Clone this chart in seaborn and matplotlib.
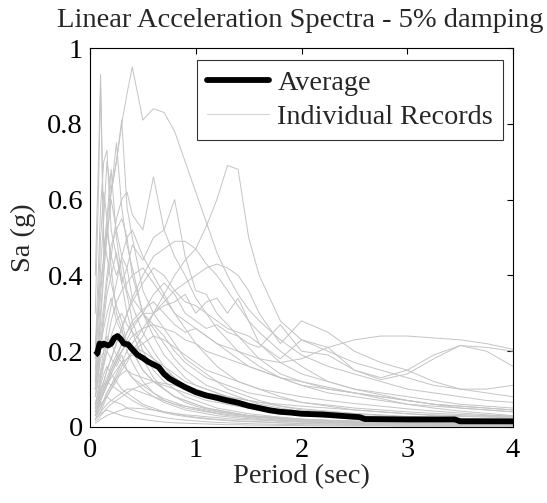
import numpy as np
import pandas as pd
import matplotlib
matplotlib.use("Agg")
import matplotlib.pyplot as plt
from matplotlib.lines import Line2D
import seaborn as sns

# ---------------- data ----------------
PERIOD = [0.05, 0.08, 0.1, 0.13, 0.16, 0.2, 0.25, 0.3, 0.35, 0.4, 0.5, 0.6, 0.7, 0.8, 0.9, 1.0,
          1.1, 1.2, 1.3, 1.4, 1.5, 1.6, 1.8, 2.0, 2.25, 2.5, 2.75, 3.0, 3.25, 3.5, 3.75, 4.0]

REC_01 = [0.22,0.30,0.38,0.45,0.55,0.62,0.70,0.80,0.88,0.95,0.81,0.84,0.83,0.78,0.70,0.62,0.54,0.46,0.40,0.35,0.31,0.28,0.23,0.19,0.16,0.14,0.12,0.10,0.09,0.08,0.07,0.065]
REC_02 = [0.40,0.70,0.93,0.50,0.45,0.38,0.32,0.28,0.22,0.20,0.15,0.12,0.10,0.08,0.07,0.06,0.05,0.045,0.04,0.035,0.03,0.028,0.024,0.02,0.018,0.016,0.014,0.012,0.011,0.01,0.009,0.008]
REC_03 = [0.30,0.62,0.90,0.45,0.55,0.42,0.30,0.26,0.20,0.17,0.12,0.09,0.07,0.06,0.05,0.045,0.04,0.035,0.03,0.028,0.025,0.022,0.018,0.015,0.013,0.011,0.01,0.009,0.008,0.008,0.007,0.007]
REC_04 = [0.12,0.22,0.30,0.42,0.50,0.62,0.70,0.81,0.58,0.50,0.36,0.30,0.26,0.22,0.18,0.16,0.14,0.12,0.10,0.09,0.08,0.07,0.055,0.045,0.04,0.035,0.03,0.026,0.024,0.022,0.02,0.018]
REC_05 = [0.15,0.30,0.42,0.55,0.70,0.62,0.75,0.58,0.48,0.42,0.30,0.24,0.19,0.16,0.13,0.11,0.10,0.09,0.08,0.07,0.06,0.055,0.045,0.038,0.032,0.027,0.024,0.021,0.019,0.017,0.016,0.015]
REC_06 = [0.20,0.42,0.58,0.70,0.73,0.52,0.45,0.38,0.30,0.25,0.18,0.13,0.10,0.08,0.065,0.055,0.048,0.042,0.037,0.033,0.03,0.027,0.022,0.018,0.015,0.013,0.011,0.01,0.009,0.008,0.008,0.007]
REC_07 = [0.10,0.16,0.22,0.30,0.38,0.45,0.55,0.60,0.62,0.56,0.52,0.66,0.52,0.45,0.40,0.34,0.30,0.26,0.23,0.20,0.18,0.16,0.13,0.11,0.09,0.08,0.07,0.06,0.055,0.05,0.045,0.04]
REC_08 = [0.08,0.12,0.15,0.20,0.26,0.32,0.38,0.45,0.42,0.48,0.44,0.50,0.52,0.60,0.45,0.36,0.35,0.30,0.27,0.24,0.21,0.18,0.14,0.12,0.10,0.09,0.08,0.07,0.06,0.055,0.05,0.045]
REC_09 = [0.04,0.05,0.06,0.07,0.08,0.10,0.12,0.15,0.17,0.20,0.24,0.30,0.35,0.40,0.44,0.47,0.53,0.60,0.69,0.68,0.50,0.40,0.28,0.23,0.20,0.17,0.15,0.13,0.11,0.10,0.09,0.08]
REC_10 = [0.03,0.04,0.05,0.07,0.09,0.11,0.14,0.17,0.20,0.22,0.26,0.30,0.33,0.36,0.38,0.40,0.42,0.43,0.42,0.40,0.36,0.30,0.22,0.28,0.25,0.20,0.17,0.15,0.12,0.10,0.10,0.11]
REC_11 = [0.05,0.07,0.09,0.12,0.15,0.18,0.22,0.26,0.30,0.33,0.38,0.42,0.40,0.36,0.33,0.32,0.30,0.28,0.26,0.25,0.24,0.22,0.18,0.23,0.21,0.15,0.13,0.15,0.19,0.215,0.20,0.16]
REC_12 = [0.04,0.06,0.08,0.10,0.12,0.15,0.18,0.22,0.25,0.28,0.31,0.33,0.30,0.27,0.25,0.26,0.24,0.22,0.21,0.20,0.19,0.18,0.17,0.18,0.21,0.23,0.24,0.24,0.235,0.23,0.22,0.205]
REC_13 = [0.03,0.05,0.07,0.09,0.11,0.14,0.17,0.20,0.23,0.26,0.30,0.35,0.38,0.35,0.30,0.28,0.26,0.27,0.25,0.24,0.22,0.21,0.27,0.20,0.19,0.15,0.125,0.14,0.18,0.215,0.21,0.20]
REC_14 = [0.05,0.07,0.09,0.11,0.13,0.16,0.19,0.22,0.25,0.27,0.30,0.30,0.32,0.33,0.35,0.30,0.33,0.34,0.30,0.34,0.28,0.22,0.17,0.14,0.12,0.10,0.09,0.08,0.07,0.06,0.055,0.05]
REC_15 = [0.06,0.08,0.10,0.12,0.15,0.18,0.22,0.26,0.30,0.34,0.40,0.45,0.47,0.49,0.49,0.47,0.43,0.40,0.36,0.32,0.28,0.25,0.20,0.16,0.12,0.10,0.085,0.07,0.06,0.05,0.045,0.04]
REC_16 = [0.10,0.18,0.25,0.32,0.40,0.48,0.52,0.55,0.50,0.52,0.45,0.40,0.35,0.30,0.26,0.22,0.19,0.16,0.14,0.12,0.11,0.10,0.08,0.065,0.055,0.045,0.04,0.035,0.03,0.028,0.026,0.024]
REC_17 = [0.12,0.25,0.35,0.45,0.50,0.60,0.52,0.45,0.50,0.40,0.30,0.26,0.22,0.18,0.15,0.13,0.11,0.10,0.09,0.08,0.07,0.06,0.05,0.04,0.035,0.03,0.027,0.024,0.022,0.02,0.018,0.017]
REC_18 = [0.18,0.35,0.50,0.62,0.55,0.68,0.50,0.40,0.35,0.28,0.20,0.15,0.12,0.10,0.08,0.07,0.06,0.05,0.045,0.04,0.035,0.032,0.026,0.021,0.018,0.015,0.013,0.012,0.011,0.01,0.009,0.009]
REC_19 = [0.10,0.20,0.28,0.40,0.52,0.45,0.40,0.44,0.36,0.32,0.25,0.20,0.16,0.13,0.11,0.09,0.08,0.07,0.06,0.055,0.05,0.045,0.036,0.03,0.025,0.021,0.018,0.016,0.014,0.013,0.012,0.011]
REC_20 = [0.08,0.14,0.20,0.28,0.35,0.40,0.46,0.38,0.42,0.34,0.30,0.27,0.24,0.20,0.17,0.15,0.13,0.12,0.11,0.10,0.09,0.085,0.075,0.065,0.058,0.05,0.045,0.04,0.036,0.033,0.03,0.028]
REC_21 = [0.06,0.10,0.14,0.18,0.22,0.28,0.33,0.36,0.38,0.40,0.42,0.38,0.34,0.30,0.28,0.26,0.24,0.22,0.20,0.18,0.16,0.15,0.13,0.11,0.10,0.09,0.08,0.07,0.06,0.055,0.05,0.045]
REC_22 = [0.10,0.16,0.22,0.26,0.30,0.34,0.28,0.25,0.22,0.20,0.15,0.12,0.10,0.08,0.07,0.06,0.05,0.045,0.04,0.035,0.03,0.028,0.024,0.02,0.017,0.015,0.013,0.012,0.011,0.01,0.009,0.008]
REC_23 = [0.05,0.09,0.12,0.16,0.20,0.24,0.28,0.30,0.27,0.25,0.22,0.18,0.15,0.13,0.11,0.10,0.09,0.08,0.07,0.065,0.06,0.055,0.045,0.04,0.034,0.03,0.026,0.023,0.021,0.019,0.018,0.016]
REC_24 = [0.08,0.14,0.18,0.20,0.24,0.22,0.19,0.17,0.15,0.13,0.10,0.08,0.065,0.055,0.045,0.04,0.035,0.03,0.027,0.024,0.022,0.02,0.016,0.013,0.011,0.01,0.009,0.008,0.007,0.007,0.006,0.006]
REC_25 = [0.04,0.06,0.08,0.10,0.12,0.15,0.18,0.20,0.22,0.21,0.20,0.18,0.16,0.14,0.12,0.11,0.10,0.09,0.08,0.075,0.07,0.065,0.055,0.048,0.042,0.036,0.032,0.028,0.025,0.023,0.021,0.02]
REC_26 = [0.06,0.10,0.13,0.17,0.20,0.18,0.16,0.19,0.15,0.13,0.11,0.09,0.075,0.065,0.055,0.048,0.042,0.037,0.033,0.03,0.027,0.025,0.02,0.017,0.014,0.012,0.011,0.01,0.009,0.008,0.007,0.007]
REC_27 = [0.03,0.05,0.07,0.09,0.11,0.13,0.15,0.17,0.18,0.19,0.18,0.16,0.14,0.12,0.10,0.09,0.08,0.07,0.065,0.06,0.055,0.05,0.042,0.036,0.03,0.026,0.023,0.02,0.018,0.016,0.015,0.014]
REC_28 = [0.05,0.08,0.11,0.14,0.16,0.14,0.12,0.10,0.09,0.08,0.06,0.05,0.04,0.035,0.03,0.026,0.023,0.02,0.018,0.016,0.015,0.014,0.011,0.009,0.008,0.007,0.006,0.005,0.005,0.004,0.004,0.004]
REC_29 = [0.02,0.04,0.05,0.07,0.09,0.11,0.13,0.14,0.15,0.14,0.13,0.12,0.11,0.10,0.09,0.08,0.07,0.065,0.06,0.055,0.05,0.046,0.04,0.034,0.03,0.026,0.023,0.021,0.019,0.017,0.016,0.015]
REC_30 = [0.04,0.07,0.09,0.11,0.12,0.11,0.10,0.09,0.08,0.07,0.055,0.045,0.038,0.032,0.028,0.024,0.021,0.019,0.017,0.015,0.014,0.013,0.011,0.009,0.008,0.007,0.006,0.006,0.005,0.005,0.005,0.004]
REC_31 = [0.02,0.03,0.04,0.05,0.06,0.07,0.08,0.09,0.10,0.10,0.09,0.08,0.07,0.06,0.055,0.05,0.045,0.04,0.036,0.033,0.03,0.028,0.024,0.02,0.017,0.015,0.013,0.012,0.011,0.01,0.009,0.009]
REC_32 = [0.03,0.05,0.06,0.07,0.08,0.07,0.065,0.06,0.05,0.045,0.035,0.03,0.025,0.021,0.018,0.016,0.014,0.012,0.011,0.01,0.009,0.008,0.007,0.006,0.005,0.004,0.004,0.003,0.003,0.003,0.003,0.003]
REC_33 = [0.01,0.015,0.02,0.025,0.03,0.035,0.04,0.045,0.05,0.05,0.048,0.045,0.04,0.036,0.032,0.03,0.027,0.025,0.022,0.02,0.019,0.018,0.015,0.013,0.011,0.01,0.009,0.008,0.007,0.007,0.006,0.006]
REC_34 = [0.02,0.03,0.035,0.04,0.045,0.04,0.035,0.03,0.027,0.024,0.02,0.016,0.013,0.011,0.01,0.009,0.008,0.007,0.006,0.006,0.005,0.005,0.004,0.004,0.003,0.003,0.003,0.002,0.002,0.002,0.002,0.002]
REC_35 = [0.03,0.05,0.07,0.09,0.11,0.14,0.17,0.20,0.22,0.24,0.26,0.27,0.26,0.25,0.23,0.22,0.20,0.19,0.18,0.17,0.16,0.15,0.13,0.12,0.105,0.09,0.075,0.06,0.05,0.042,0.036,0.03]
REC_36 = [0.02,0.03,0.04,0.06,0.08,0.10,0.13,0.16,0.18,0.20,0.22,0.24,0.23,0.21,0.19,0.17,0.15,0.14,0.13,0.12,0.11,0.10,0.09,0.08,0.07,0.062,0.055,0.048,0.042,0.037,0.032,0.028]
REC_37 = [0.015,0.02,0.03,0.04,0.05,0.06,0.07,0.08,0.09,0.10,0.11,0.12,0.115,0.11,0.10,0.095,0.09,0.085,0.08,0.075,0.07,0.065,0.06,0.055,0.05,0.045,0.04,0.035,0.032,0.03,0.028,0.026]

RECORDS = [REC_01, REC_02, REC_03, REC_04, REC_05, REC_06, REC_07, REC_08, REC_09, REC_10,
           REC_11, REC_12, REC_13, REC_14, REC_15, REC_16, REC_17, REC_18, REC_19, REC_20,
           REC_21, REC_22, REC_23, REC_24, REC_25, REC_26, REC_27, REC_28, REC_29, REC_30,
           REC_31, REC_32, REC_33, REC_34, REC_35, REC_36, REC_37]

AVG_PERIOD = [0.05, 0.07, 0.09, 0.11, 0.13, 0.17, 0.2, 0.23, 0.26, 0.29, 0.32, 0.36, 0.4, 0.45,
              0.5, 0.55, 0.6, 0.65, 0.7, 0.75, 0.8, 0.9, 1.0, 1.1, 1.2, 1.3, 1.4, 1.5, 1.6, 1.7,
              1.8, 1.9, 2.0, 2.2, 2.35, 2.55, 2.6, 3.0, 3.45, 3.5, 4.0]
AVG_SA = [0.19, 0.195, 0.22, 0.215, 0.22, 0.215, 0.22, 0.235, 0.24, 0.232, 0.22, 0.218, 0.205, 0.19,
          0.182, 0.172, 0.165, 0.158, 0.14, 0.128, 0.12, 0.105, 0.092, 0.083, 0.077, 0.07, 0.064, 0.056, 0.05, 0.044,
          0.04, 0.038, 0.035, 0.033, 0.03, 0.026, 0.021, 0.02, 0.02, 0.015, 0.015]

TITLE = "Linear Acceleration Spectra - 5% damping"
XLABEL = "Period (sec)"
YLABEL = "Sa (g)"
LEGEND_LABELS = ["Average", "Individual Records"]

# ---------------- build frames ----------------
rows = []
for i, rec in enumerate(RECORDS):
    for t, s in zip(PERIOD, rec):
        rows.append({"record": i, "period": t, "sa": s})
df = pd.DataFrame(rows)
avg_df = pd.DataFrame({"period": AVG_PERIOD, "sa": AVG_SA})

# ---------------- plot ----------------
sns.set_style("white")
plt.rcParams["font.family"] = ["Liberation Serif", "DejaVu Serif"]
plt.rcParams["mathtext.fontset"] = "stix"

fig = plt.figure(figsize=(5.47, 5.03), dpi=100)
ax = fig.add_axes([90 / 547, 1 - 427 / 503, (513 - 90) / 547, (427 - 48) / 503])

gray = "#c4c4c4"
sns.lineplot(data=df, x="period", y="sa", units="record", estimator=None,
             color=gray, lw=0.7, ax=ax, legend=False)
sns.lineplot(data=avg_df, x="period", y="sa", color="black", lw=4.2, ax=ax,
             legend=False, solid_capstyle="butt")

ax.set_xlim(0, 4)
ax.set_ylim(0, 1)
ax.set_xticks([0, 1, 2, 3, 4])
ax.set_xticklabels(["0", "1", "2", "3", "4"])
ax.set_yticks([0, 0.2, 0.4, 0.6, 0.8, 1])
ax.set_yticklabels(["0", "0.2", "0.4", "0.6", "0.8", "1"])
ax.tick_params(direction="in", top=True, right=True, length=4, width=0.8,
               labelsize=20.5, colors="black")
ax.tick_params(axis="x", pad=8)
ax.tick_params(axis="y", pad=5)
for sp in ax.spines.values():
    sp.set_visible(True)
    sp.set_color("black")
    sp.set_linewidth(0.8)

ax.set_title(TITLE, fontsize=20.5, pad=15, x=0.497)
ax.set_xlabel(XLABEL, fontsize=20.5, labelpad=1)
ax.set_ylabel(YLABEL, fontsize=20.5, labelpad=8)

handles = [Line2D([0], [0], color="black", lw=4.2),
           Line2D([0], [0], color="#d4d4d4", lw=0.8)]
leg = ax.legend(handles, LEGEND_LABELS, loc="upper right", bbox_to_anchor=(0.976, 0.968),
                borderaxespad=0, frameon=True, fancybox=False, fontsize=20.3,
                handlelength=2.2, handletextpad=0.3, borderpad=0.35, labelspacing=0.3)
leg.get_frame().set_edgecolor("black")
leg.get_frame().set_linewidth(0.8)

fig.savefig("out.png", dpi=100)
